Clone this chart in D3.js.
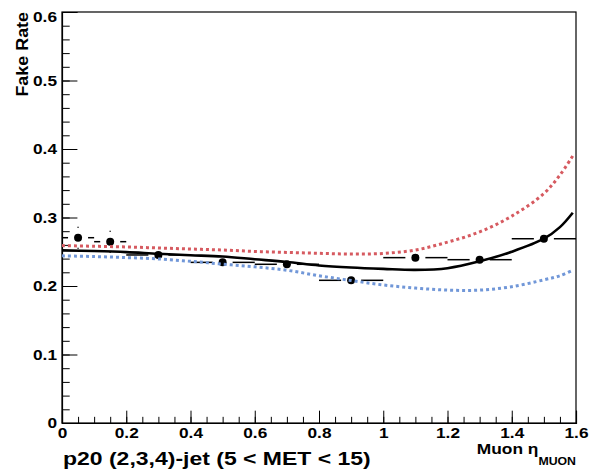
<!DOCTYPE html>
<html>
<head>
<meta charset="utf-8">
<script src="https://cdn.jsdelivr.net/npm/d3@7"></script>
<style>
  body { margin: 0; background: #fff; }
  text { font-family: "Liberation Sans", Arial, sans-serif; font-weight: bold; fill: #000; }
</style>
</head>
<body>
<div id="chart"></div>
<script>
// measured points (bin edges, rate, vertical error)
const binLo = [0, 0.1, 0.2, 0.4, 0.6, 0.8, 1.0, 1.2, 1.4];
const binHi = [0.1, 0.2, 0.4, 0.6, 0.8, 1.0, 1.2, 1.4, 1.6];
const rate  = [0.2705, 0.2647, 0.2453, 0.2345, 0.2317, 0.2083, 0.2414, 0.2384, 0.269];
const rateErr = [0.016, 0.016, 0.008, 0.006, 0.006, 0.008, 0.01, 0.01, 0.012];

// fit curve and its two bands
const fitEta  = [0, 0.1, 0.2, 0.3, 0.4, 0.5, 0.6, 0.7, 0.8, 0.9, 1.0, 1.1, 1.2, 1.3, 1.4, 1.5, 1.55, 1.59];
const fitMid  = [0.252, 0.251, 0.2495, 0.247, 0.245, 0.243, 0.239, 0.235, 0.230, 0.227, 0.225, 0.2235, 0.226, 0.236, 0.250, 0.269, 0.286, 0.307];
const fitHigh = [0.259, 0.258, 0.257, 0.2555, 0.254, 0.2525, 0.2505, 0.249, 0.2477, 0.2467, 0.2475, 0.2525, 0.264, 0.279, 0.302, 0.335, 0.362, 0.39];
const fitLow  = [0.244, 0.243, 0.2415, 0.2395, 0.236, 0.232, 0.228, 0.223, 0.215, 0.208, 0.2015, 0.197, 0.194, 0.194, 0.199, 0.209, 0.215, 0.223];

const yTicks = [0, 0.1, 0.2, 0.3, 0.4, 0.5, 0.6];
const xTicks = [0, 0.2, 0.4, 0.6, 0.8, 1, 1.2, 1.4, 1.6];

const width = 589, height = 472;
const margin = {top: 12, right: 13, bottom: 49, left: 62};

const svg = d3.select('#chart').append('svg')
    .attr('width', width)
    .attr('height', height);

const x = d3.scaleLinear().domain([0, 1.6]).range([margin.left, width - margin.right]);
const y = d3.scaleLinear().domain([0, 0.6]).range([height - margin.bottom, margin.top]);

const plotW = x.range()[1] - x.range()[0];
const plotH = y.range()[0] - y.range()[1];

// the reference text is a bit wider than plain Arial bold, stretch it around its x
function stretch(sel, k) {
  sel.each(function () {
    const t = d3.select(this);
    const tx = +t.attr('x') || 0;
    t.attr('transform', `translate(${tx},0) scale(${k},1) translate(${-tx},0)`);
  });
}

// frame
svg.append('rect')
    .attr('x', x(0)).attr('y', y(0.6))
    .attr('width', plotW).attr('height', plotH)
    .attr('fill', 'none').attr('stroke', '#000').attr('stroke-width', 1.2);

// y axis: minor then major ticks, drawn inward
svg.append('g')
    .attr('transform', `translate(${x(0)},0)`)
    .call(d3.axisLeft(y).tickValues(d3.range(0, 0.601, 0.02)).tickSize(-plotW * 0.015).tickFormat(''))
    .call(g => g.select('.domain').remove());

const yAxis = svg.append('g')
    .attr('transform', `translate(${x(0)},0)`)
    .call(d3.axisLeft(y).tickValues(yTicks).tickSize(-plotW * 0.03).tickPadding(5)
        .tickFormat(d => d === 0 ? '0' : d3.format('.1f')(d)));
yAxis.select('.domain').attr('stroke-width', 1.2);
yAxis.selectAll('text').attr('font-size', 15).attr('font-family', null).call(stretch, 1.15);
yAxis.selectAll('.tick').filter(d => d === 0.6).select('text').attr('dy', '0.62em');

// x axis
svg.append('g')
    .attr('transform', `translate(0,${y(0)})`)
    .call(d3.axisBottom(x).tickValues(d3.range(0, 1.601, 0.05)).tickSize(-plotH * 0.015).tickFormat(''))
    .call(g => g.select('.domain').remove());

const xAxis = svg.append('g')
    .attr('transform', `translate(0,${y(0)})`)
    .call(d3.axisBottom(x).tickValues(xTicks).tickSize(-plotH * 0.03).tickPadding(4)
        .tickFormat(d => d === 0 || d === 1 ? String(d) : d3.format('.1f')(d)));
xAxis.select('.domain').attr('stroke-width', 1.2);
xAxis.selectAll('text').attr('font-size', 15).attr('font-family', null).call(stretch, 1.15);

// points with error bars (gap around the marker like ROOT)
const gap = 10;
const pts = rate.map((r, i) => ({lo: binLo[i], hi: binHi[i], r, e: rateErr[i]}));
const eb = svg.append('g').attr('stroke', '#000').attr('stroke-width', 1.5);
pts.forEach(p => {
  const cx = x((p.lo + p.hi) / 2), cy = y(p.r);
  eb.append('line').attr('x1', x(p.lo)).attr('x2', cx - gap).attr('y1', cy).attr('y2', cy);
  eb.append('line').attr('x1', cx + gap).attr('x2', x(p.hi)).attr('y1', cy).attr('y2', cy);
  if (y(p.r - p.e) - cy > gap) {
    eb.append('line').attr('x1', cx).attr('x2', cx).attr('y1', y(p.r + p.e)).attr('y2', cy - gap);
    eb.append('line').attr('x1', cx).attr('x2', cx).attr('y1', cy + gap).attr('y2', y(p.r - p.e));
  }
});
svg.append('g').selectAll('circle')
  .data(pts)
  .enter()
  .append('circle')
  .attr('cx', d => x((d.lo + d.hi) / 2))
  .attr('cy', d => y(d.r))
  .attr('r', 4)
  .attr('fill', '#000');

// curves
const line = d3.line()
    .x(d => x(d[0]))
    .y(d => y(d[1]))
    .curve(d3.curveCatmullRom.alpha(0.5));

svg.append('path')
    .datum(fitEta.map((e, i) => [e, fitMid[i]]))
    .attr('d', line)
    .attr('fill', 'none').attr('stroke', '#000').attr('stroke-width', 2.6);

svg.append('path')
    .datum(fitEta.map((e, i) => [e, fitHigh[i]]))
    .attr('d', line)
    .attr('fill', 'none').attr('stroke', '#d65a60').attr('stroke-width', 3)
    .attr('stroke-dasharray', '3,3');

svg.append('path')
    .datum(fitEta.map((e, i) => [e, fitLow[i]]))
    .attr('d', line)
    .attr('fill', 'none').attr('stroke', '#7197d8').attr('stroke-width', 3)
    .attr('stroke-dasharray', '3,3');

// labels
svg.append('text')
    .attr('transform', `translate(28,${margin.top}) rotate(-90) scale(1.12,1)`)
    .attr('text-anchor', 'end')
    .attr('font-size', 16)
    .text('Fake Rate');

const xl = svg.append('text')
    .attr('x', x(1.6))
    .attr('y', 454)
    .attr('text-anchor', 'end')
    .attr('font-size', 15.5);
xl.append('tspan').text('Muon \u03b7');
xl.append('tspan').attr('dy', 11).attr('font-size', 11).text('MUON');
xl.call(stretch, 1.12);

svg.append('text')
    .attr('x', 63)
    .attr('y', 465)
    .attr('font-size', 19)
    .text('p20 (2,3,4)-jet (5 < MET < 15)')
    .call(stretch, 1.21);
</script>
</body>
</html>
